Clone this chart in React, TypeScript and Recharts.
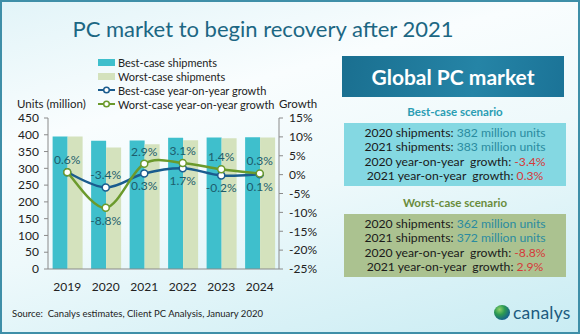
import { Bar, ComposedChart, LabelList, Line, XAxis, YAxis } from "recharts";

const years = ["2019", "2020", "2021", "2022", "2023", "2024"];
const bestShip = [395, 382, 383, 391, 392, 393];
const worstShip = [395, 362, 372, 384, 390, 392];
const bestGrowth = [0.6, -3.4, 0.3, 1.7, -0.2, 0.1];
const worstGrowth = [0.6, -8.8, 2.9, 3.1, 1.4, 0.3];
// which growth labels sit above the point (true) or below (false); null = hidden
const bestLabelUp = [true, true, false, false, false, false];
const worstLabelUp = [null, false, true, true, true, true];
const unitTicks = [0, 50, 100, 150, 200, 250, 300, 350, 400, 450];
const growthTicks = [-25, -20, -15, -10, -5, 0, 5, 10, 15];

const data = years.map((y, i) => ({
  year: y,
  best: bestShip[i],
  worst: worstShip[i],
  bestG: bestGrowth[i],
  worstG: worstGrowth[i],
}));

const FONT = "Lato, 'Open Sans', sans-serif";
const BEST = "#3fbfcc";
const WORST = "#d4e2bd";
const BEST_LINE = "#1a5c8e";
const WORST_LINE = "#6b9a2c";
const LABEL = "#1d5d6c";

// Excel-like smoothed line (Catmull-Rom style bezier)
const smooth = (ctx: any) => {
  let pts: number[][] = [];
  return {
    areaStart() {},
    areaEnd() {},
    lineStart() {
      pts = [];
    },
    point(x: number, y: number) {
      pts.push([+x, +y]);
    },
    lineEnd() {
      if (!pts.length) return;
      ctx.moveTo(pts[0][0], pts[0][1]);
      for (let i = 0; i < pts.length - 1; i++) {
        const p0 = pts[i - 1] || pts[i];
        const p1 = pts[i];
        const p2 = pts[i + 1];
        const p3 = pts[i + 2] || p2;
        ctx.bezierCurveTo(
          p1[0] + (p2[0] - p0[0]) / 6,
          p1[1] + (p2[1] - p0[1]) / 6,
          p2[0] - (p3[0] - p1[0]) / 6,
          p2[1] - (p3[1] - p1[1]) / 6,
          p2[0],
          p2[1]
        );
      }
    },
  };
};

const growthLabel = (flags: (boolean | null)[]) => (props: any) => {
  const { x, y, value, index } = props;
  const up = flags[index];
  if (up === null || up === undefined) return null;
  return (
    <text
      x={x}
      y={up ? y - 8 : y + 17}
      textAnchor="middle"
      fontSize={12}
      fill={LABEL}
      fontFamily={FONT}
    >
      {`${value}%`}
    </text>
  );
};

function Legend() {
  const row = { display: "flex", alignItems: "center", height: 14, fontSize: 11, color: "#222" } as const;
  const lineMark = (c: string) => (
    <svg width={17} height={10} style={{ marginRight: 3 }}>
      <line x1={0} y1={5} x2={17} y2={5} stroke={c} strokeWidth={2} />
      <circle cx={8.5} cy={5} r={2.8} fill="#fff" stroke={c} strokeWidth={1.5} />
    </svg>
  );
  return (
    <div style={{ position: "absolute", left: 96, top: 53, fontFamily: FONT }}>
      <div style={row}>
        <span style={{ width: 17, height: 7, background: BEST, marginRight: 3 }} />
        Best-case shipments
      </div>
      <div style={row}>
        <span style={{ width: 17, height: 7, background: WORST, marginRight: 3 }} />
        Worst-case shipments
      </div>
      <div style={row}>
        {lineMark(BEST_LINE)}
        Best-case year-on-year growth
      </div>
      <div style={row}>
        {lineMark(WORST_LINE)}
        Worst-case year-on-year growth
      </div>
    </div>
  );
}

function Scenario({
  title,
  titleColor,
  bg,
  top,
  ship20,
  ship21,
  g20,
  g21,
}: {
  title: string;
  titleColor: string;
  bg: string;
  top: number;
  ship20: string;
  ship21: string;
  g20: string;
  g21: string;
}) {
  const line = { height: 14.3, lineHeight: "14.3px" } as const;
  const num = { color: "#2a8ba0" };
  const red = { color: "#d63a3a" };
  return (
    <div style={{ position: "absolute", left: 342, top, width: 222, fontFamily: FONT, textAlign: "center" }}>
      <div style={{ color: titleColor, fontWeight: 700, fontSize: 11.5, height: 18, lineHeight: "18px" }}>{title}</div>
      <div style={{ background: bg, marginTop: 2, padding: "3px 0", fontSize: 12.2, color: "#1a1a1a" }}>
        <div style={line}>
          2020 shipments: <span style={num}>{ship20}</span>
        </div>
        <div style={line}>
          2021 shipments: <span style={num}>{ship21}</span>
        </div>
        <div style={line}>
          2020 year-on-year&nbsp; growth: <span style={red}>{g20}</span>
        </div>
        <div style={line}>
          2021 year-on-year&nbsp; growth: <span style={red}>{g21}</span>
        </div>
      </div>
    </div>
  );
}

export default function App() {
  return (
    <div
      style={{
        position: "relative",
        width: 580,
        height: 334,
        boxSizing: "border-box",
        border: "2px solid #3f8fa8",
        background: "linear-gradient(165deg, #e2f4f8 0%, #f9fdfe 30%, #eef9fb 55%, #c9ecf3 100%)",
        overflow: "hidden",
        fontFamily: FONT,
      }}
    >
      <style>{`body{margin:0}`}</style>
      <div
        style={{
          position: "absolute",
          left: 0,
          width: 522,
          top: 13,
          textAlign: "center",
          fontSize: 22,
          color: "#1c6783",
        }}
      >
        PC market to begin recovery after 2021
      </div>

      <Legend />
      <div style={{ position: "absolute", left: 15, top: 95, fontSize: 11.5, color: "#222" }}>Units (million)</div>
      <div style={{ position: "absolute", left: 277, top: 95, fontSize: 11.5, color: "#222" }}>Growth</div>

      <div style={{ position: "absolute", left: -2, top: -2 }}>
        <ComposedChart
          width={320}
          height={334}
          data={data}
          margin={{ top: 118, right: 5, bottom: 35, left: 8 }}
          barGap={0}
          barCategoryGap="12%"
        >
          <XAxis
            dataKey="year"
            tickLine={false}
            axisLine={{ stroke: "#8a8a8a" }}
            tick={{ fontSize: 12, fill: "#222", fontFamily: FONT }}
            tickMargin={7}
            height={30}
          />
          <YAxis
            yAxisId="u"
            domain={[0, 450]}
            ticks={unitTicks}
            width={40}
            tickSize={4}
            tickMargin={5}
            axisLine={{ stroke: "#8a8a8a" }}
            tickLine={{ stroke: "#8a8a8a" }}
            tick={{ fontSize: 12, fill: "#222", fontFamily: FONT }}
            interval={0}
          />
          <YAxis
            yAxisId="g"
            orientation="right"
            domain={[-25, 15]}
            ticks={growthTicks}
            width={36}
            tickSize={4}
            tickMargin={6}
            axisLine={{ stroke: "#8a8a8a" }}
            tickLine={{ stroke: "#8a8a8a" }}
            tick={{ fontSize: 12, fill: "#222", fontFamily: FONT, textAnchor: "start" }}
            tickFormatter={(v: number) => `${v}%`}
            interval={0}
          />
          <Bar yAxisId="u" dataKey="best" fill={BEST} isAnimationActive={false} />
          <Bar yAxisId="u" dataKey="worst" fill={WORST} isAnimationActive={false} />
          <Line
            yAxisId="g"
            dataKey="bestG"
            type={smooth as any}
            stroke={BEST_LINE}
            strokeWidth={2.5}
            dot={{ r: 3.5, fill: "#fff", stroke: BEST_LINE, strokeWidth: 1.5 }}
            isAnimationActive={false}
          >
            <LabelList dataKey="bestG" content={growthLabel(bestLabelUp)} />
          </Line>
          <Line
            yAxisId="g"
            dataKey="worstG"
            type={smooth as any}
            stroke={WORST_LINE}
            strokeWidth={2.5}
            dot={{ r: 3.5, fill: "#fff", stroke: WORST_LINE, strokeWidth: 1.5 }}
            isAnimationActive={false}
          >
            <LabelList dataKey="worstG" content={growthLabel(worstLabelUp)} />
          </Line>
        </ComposedChart>
      </div>

      <div
        style={{
          position: "absolute",
          left: 340,
          top: 54,
          width: 222,
          height: 41,
          background: "linear-gradient(100deg, #1a6f90 0%, #2584a6 60%, #1b7397 100%)",
          color: "#fff",
          fontWeight: 700,
          fontSize: 21,
          lineHeight: "41px",
          textAlign: "center",
        }}
      >
        Global PC market
      </div>

      <Scenario
        title="Best-case scenario"
        titleColor="#2a9db3"
        bg="#84d8e2"
        top={101}
        ship20="382 million units"
        ship21="383 million units"
        g20="-3.4%"
        g21="0.3%"
      />
      <Scenario
        title="Worst-case scenario"
        titleColor="#6a8c3c"
        bg="#abc290"
        top={192}
        ship20="362 million units"
        ship21="372 million units"
        g20="-8.8%"
        g21="2.9%"
      />

      <div style={{ position: "absolute", left: 10, top: 306, fontSize: 9.5, color: "#222" }}>
        Source:&nbsp; Canalys estimates, Client PC Analysis, January 2020
      </div>

      <div style={{ position: "absolute", left: 492, top: 300, display: "flex", alignItems: "center" }}>
        <div
          style={{
            width: 16,
            height: 15,
            borderRadius: "50%",
            background: "radial-gradient(circle at 35% 30%, #8fd16a 0%, #2c9a52 35%, #13608f 75%, #0c3f6a 100%)",
            marginRight: 3,
          }}
        />
        <span style={{ fontSize: 17.5, color: "#1c5b7f", letterSpacing: 0.2 }}>canalys</span>
      </div>
    </div>
  );
}
